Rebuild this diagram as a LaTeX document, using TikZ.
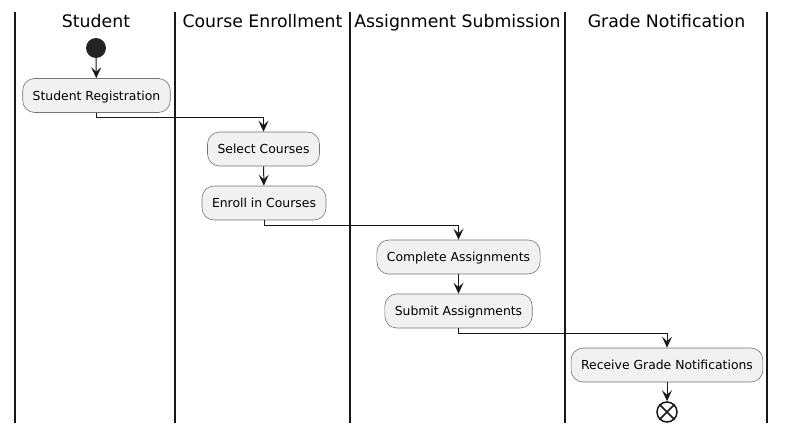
\documentclass[tikz,border=0pt]{standalone}
\usepackage{fontspec}
\setmainfont{DejaVu Sans}
\usetikzlibrary{arrows.meta}
\definecolor{boxfill}{HTML}{F1F1F1}
\definecolor{ink}{HTML}{181818}
\tikzset{
  lane/.style={line width=1.4pt, draw=ink},
  head/.style={font=\fontsize{17.3}{20}\selectfont, text=black, anchor=base},
  act/.style={draw=ink!60, line width=0.6pt, fill=boxfill, rounded corners=12pt,
    minimum height=34pt, inner xsep=10pt, inner ysep=0pt, text height=11pt, text depth=2pt,
    font=\fontsize{12.4}{14}\selectfont},
  arr/.style={draw=ink, line width=1pt, -{Stealth[length=11pt,width=10pt,inset=4.5pt]}},
  startnode/.style={circle, fill=ink!95, draw=none, minimum size=20pt, inner sep=0pt},
  endnode/.style={circle, draw=ink, line width=1.5pt, fill=white, minimum size=20pt, inner sep=0pt}
}
\begin{document}
\begin{tikzpicture}[x=1pt,y=-1pt]
\useasboundingbox (0,0) rectangle (786,433);
% lanes
\coordinate (l0t) at (15,12); \coordinate (l0b) at (15,423);
\coordinate (l1t) at (175,12); \coordinate (l1b) at (175,423);
\coordinate (l2t) at (350,12); \coordinate (l2b) at (350,423);
\coordinate (l3t) at (565,12); \coordinate (l3b) at (565,423);
\coordinate (l4t) at (767,12); \coordinate (l4b) at (767,423);
\draw[lane] (l0t) -- (l0b);
\draw[lane] (l1t) -- (l1b);
\draw[lane] (l2t) -- (l2b);
\draw[lane] (l3t) -- (l3b);
\draw[lane] (l4t) -- (l4b);
% headers
\node[head] (h1) at (96,28) {Student};
\node[head] (h2) at (262.5,28) {Course Enrollment};
\node[head] (h3) at (457.5,28) {Assignment Submission};
\node[head] (h4) at (666.5,28) {Grade Notification};
% nodes
\node[startnode] (start) at (96,48) {};
\node[act] (reg) at (96.5,95.5) {Student Registration};
\node[act] (sel) at (263.5,149) {Select Courses};
\node[act] (enr) at (264,203) {Enroll in Courses};
\node[act] (comp) at (458.5,257) {Complete Assignments};
\node[act] (sub) at (458.5,311) {Submit Assignments};
\node[act] (rec) at (667,365) {Receive Grade Notifications};
\node[endnode] (end) at (667,412) {};
\draw[ink, line width=1.5pt] (end.north west) -- (end.south east);
\draw[ink, line width=1.5pt] (end.north east) -- (end.south west);
% connectors
\draw[arr] (start) -- (reg);
\draw[arr] (reg.south) -- ++(0,5) -| (sel.north);
\draw[arr] (sel) -- (enr);
\draw[arr] (enr.south) -- ++(0,5) -| (comp.north);
\draw[arr] (comp) -- (sub);
\draw[arr] (sub.south) -- ++(0,5) -| (rec.north);
\draw[arr] (rec) -- (end);
\end{tikzpicture}
\end{document}
